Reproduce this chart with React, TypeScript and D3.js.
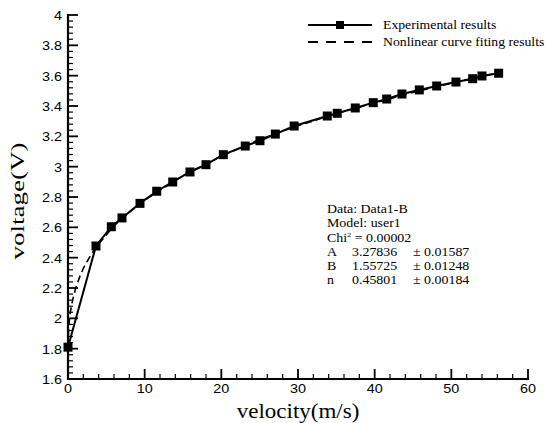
import React from "react";
import * as d3 from "d3";

// measured points (experimental)
const velocity = [0, 3.65, 5.65, 7.04, 9.39, 11.57, 13.66, 15.91, 18.0, 20.26, 23.12, 25.04, 27.04, 29.5, 33.82, 35.12, 37.47, 39.82, 41.57, 43.56, 45.82, 48.09, 50.6, 52.78, 54.0, 56.17];
const voltage = [1.81, 2.477, 2.604, 2.662, 2.758, 2.838, 2.899, 2.965, 3.013, 3.079, 3.136, 3.171, 3.215, 3.268, 3.334, 3.352, 3.387, 3.422, 3.446, 3.479, 3.506, 3.532, 3.558, 3.58, 3.598, 3.616];

// dashed fitted curve
const fitVelocity = [0, 0.1, 0.3, 0.6, 1, 1.5, 2, 3, 4, 6, 8, 10, 15, 20, 25, 30, 35, 40, 45, 50, 56.2];
const fitVoltage = [1.81, 1.95, 2.04, 2.12, 2.2, 2.27, 2.33, 2.42, 2.49, 2.61, 2.7, 2.78, 2.94, 3.07, 3.18, 3.27, 3.35, 3.42, 3.49, 3.55, 3.62];

const legendLabels = ["Experimental results", "Nonlinear curve fiting results"];
const fitInfo = ["Data: Data1-B", "Model: user1"];
const paramNames = ["A", "B", "n"];
const paramValues = ["3.27836", "1.55725", "0.45801"];
const paramErrors = ["\u00b1 0.01587", "\u00b1 0.01248", "\u00b1 0.00184"];

const W = 547;
const H = 423;
const serif = "'Liberation Serif', 'Times New Roman', serif";
const sans = "'Liberation Sans', Arial, sans-serif";

// text stretched sideways like the original export
const T = ({ x, y, sx = 1.2, size = 12, font = serif, anchor = "start", rot = 0, children }: any) => (
  <g transform={`translate(${x},${y}) rotate(${rot}) scale(${sx},1)`}>
    <text fontFamily={font} fontSize={size} textAnchor={anchor} fill="#000">
      {children}
    </text>
  </g>
);

export default function App() {
  const x = d3.scaleLinear().domain([0, 60]).range([68, 528]);
  const y = d3.scaleLinear().domain([1.6, 4]).range([379, 15]);

  const pts = velocity.map((v, i) => [v, voltage[i]] as [number, number]);
  const fitPts = fitVelocity.map((v, i) => [v, fitVoltage[i]] as [number, number]);
  const line = d3
    .line<[number, number]>()
    .x((d) => x(d[0]))
    .y((d) => y(d[1]));

  const xMajor = x.ticks(6);
  const xMinor = d3.range(0, 61, 2).filter((v) => v % 10 !== 0);
  const yMajor = y.ticks(12);
  const yMinor = d3.range(0, 61).map((i) => 1.6 + i * 0.04).filter((_, i) => i % 5 !== 0);
  const fmt = (v: number) => String(+v.toFixed(1));
  const ms = 9;

  return (
    <svg width={W} height={H} style={{ position: "absolute", left: 0, top: 0, background: "#fff" }}>
      {/* fitted curve */}
      <path d={line(fitPts) || ""} fill="none" stroke="#000" strokeWidth={1.6} strokeDasharray="7,4" />
      {/* experimental */}
      <path d={line(pts) || ""} fill="none" stroke="#000" strokeWidth={2} />
      {pts.map((d, i) => (
        <rect key={i} x={x(d[0]) - ms / 2} y={y(d[1]) - ms / 2} width={ms} height={ms} fill="#000" />
      ))}

      {/* axes */}
      <g stroke="#000">
        <line x1={x(0)} x2={x(0)} y1={y(4) - 1} y2={y(1.6) + 1} strokeWidth={2.2} />
        <line x1={x(0) - 1} x2={x(60) + 1} y1={y(1.6)} y2={y(1.6)} strokeWidth={2.2} />
        {yMajor.map((v) => (
          <line key={"ym" + v} x1={x(0)} x2={x(0) + 10} y1={y(v)} y2={y(v)} strokeWidth={1.8} />
        ))}
        {yMinor.map((v, i) => (
          <line key={"yn" + i} x1={x(0)} x2={x(0) + 5} y1={y(v)} y2={y(v)} strokeWidth={1.2} />
        ))}
        {xMajor.map((v) => (
          <line key={"xm" + v} x1={x(v)} x2={x(v)} y1={y(1.6)} y2={y(1.6) - 10} strokeWidth={1.8} />
        ))}
        {xMinor.map((v) => (
          <line key={"xn" + v} x1={x(v)} x2={x(v)} y1={y(1.6)} y2={y(1.6) - 5} strokeWidth={1.2} />
        ))}
      </g>
      {yMajor.map((v) => (
        <T key={"yl" + v} x={62} y={y(v) + 5} font={sans} anchor="end" size={12}>
          {fmt(v)}
        </T>
      ))}
      {xMajor.map((v) => (
        <T key={"xl" + v} x={x(v)} y={393} font={sans} anchor="middle" size={12}>
          {fmt(v)}
        </T>
      ))}

      {/* axis titles */}
      <T x={298} y={418} size={20} sx={1.15} anchor="middle">
        velocity(m/s)
      </T>
      <T x={24} y={201} size={18} sx={1.5} rot={-90} anchor="middle">
        voltage(V)
      </T>

      {/* legend */}
      <line x1={308} x2={372} y1={25} y2={25} stroke="#000" strokeWidth={2} />
      <rect x={340 - 4} y={25 - 4} width={8} height={8} fill="#000" />
      <line x1={308} x2={372} y1={42} y2={42} stroke="#000" strokeWidth={2} strokeDasharray="10,8" />
      <T x={383} y={28.5} size={12.5} sx={1.1}>
        {legendLabels[0]}
      </T>
      <T x={383} y={45.5} size={12.5} sx={1.1}>
        {legendLabels[1]}
      </T>

      {/* fit parameters */}
      {fitInfo.map((s, i) => (
        <T key={s} x={327} y={213 + i * 14.2} size={11.6}>
          {s}
        </T>
      ))}
      <T x={327} y={241.5} size={11.6}>
        Chi
        <tspan dy={-5} fontSize={7}>
          2
        </tspan>
        <tspan dy={5}> = 0.00002</tspan>
      </T>
      {paramNames.map((p, i) => (
        <g key={p}>
          <T x={327} y={255.7 + i * 14.2} size={11.6}>
            {p}
          </T>
          <T x={352} y={255.7 + i * 14.2} size={11.6}>
            {paramValues[i]}
          </T>
          <T x={413} y={255.7 + i * 14.2} size={11.6}>
            {paramErrors[i]}
          </T>
        </g>
      ))}
    </svg>
  );
}
